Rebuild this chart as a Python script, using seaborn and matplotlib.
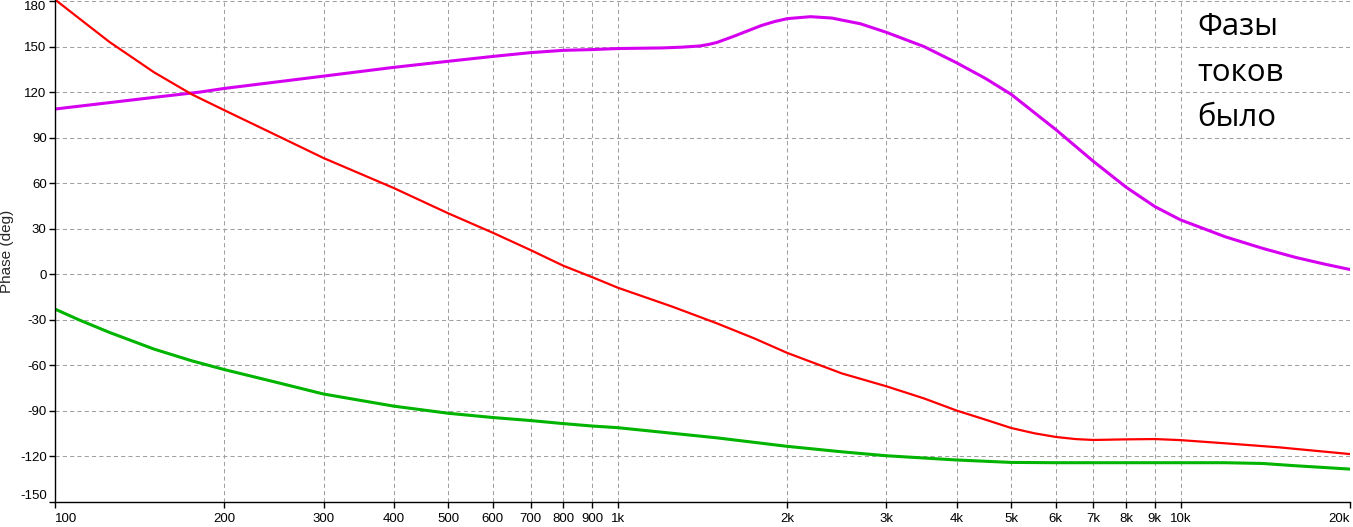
import numpy as np
import pandas as pd
import matplotlib
matplotlib.use("Agg")
import matplotlib.pyplot as plt
import seaborn as sns
from matplotlib.ticker import FixedLocator, NullLocator

# Phase curves (frequency in Hz, phase in degrees)
red_f = [100, 110, 125, 150, 175, 200, 250, 300, 400, 500, 600, 700, 800, 900,
         1000, 1250, 1500, 1750, 2000, 2500, 3000, 3500, 4000, 4500, 5000, 5500,
         6000, 6500, 7000, 8000, 9000, 10000, 12000, 15000, 20000]
red_phase = [181, 169, 153, 133, 118.5, 108, 90.7, 76.5, 56.7, 40, 27.2, 15.8, 5.5, -2,
             -9, -21.5, -32.5, -42.5, -52, -65.5, -74, -82, -90, -96, -101.5, -105,
             -107.4, -108.8, -109.4, -109, -108.8, -109.5, -111.6, -114.3, -118.7]

mag_f = [100, 150, 181, 200, 300, 400, 500, 600, 700, 800, 900, 1000, 1200, 1300, 1400,
         1450, 1500, 1600, 1700, 1800, 1900, 2000, 2200, 2400, 2700, 3000, 3500, 4000,
         4500, 5000, 6000, 7000, 8000, 9000, 10000, 12000, 14000, 16000, 18000, 20000]
mag_phase = [108.8, 116.5, 120, 122.4, 130.5, 136.3, 140.3, 143.5, 146, 147.5, 148, 148.7, 149.1, 149.6, 150.4,
             151.4, 152.7, 156.5, 160.3, 163.9, 166.5, 168.4, 169.7, 168.8, 165, 159.4, 150, 139.3,
             129, 118.5, 95.3, 74.3, 57.3, 44.5, 35.7, 24.6, 16.9, 11, 6.6, 3]

green_f = [100, 110, 125, 150, 175, 200, 250, 300, 400, 500, 600, 700, 800, 900,
           1000, 1500, 2000, 2500, 3000, 4000, 5000, 6000, 8000, 10000, 12000,
           14000, 16000, 20000]
green_phase = [-23.1, -30, -38.5, -49.5, -57.2, -63, -71.8, -79.1, -87.1, -91.8, -94.6, -96.6, -98.6, -100.2,
               -101.3, -108, -113.6, -117.2, -119.8, -122.6, -124.2, -124.4, -124.4, -124.4, -124.4,
               -124.9, -126.4, -128.6]

x_ticks = [100, 200, 300, 400, 500, 600, 700, 800, 900, 1000, 2000, 3000, 4000,
           5000, 6000, 7000, 8000, 9000, 10000, 20000]
x_labels = ["100", "200", "300", "400", "500", "600", "700", "800", "900", "1k", "2k", "3k", "4k",
            "5k", "6k", "7k", "8k", "9k", "10k", "20k"]
y_ticks = [180, 150, 120, 90, 60, 30, 0, -30, -60, -90, -120, -150]

note_lines = ["Фазы", "токов", "было"]

sns.set_style("white")
plt.rcParams['font.family'] = ['Liberation Sans', 'DejaVu Sans']

fig = plt.figure(figsize=(13.53, 5.27), dpi=100)
ax = fig.add_axes([55 / 1353, 25 / 527, 1295 / 1353, 502 / 527])

sns.lineplot(x=mag_f, y=mag_phase, ax=ax, color="#d600f0", linewidth=2.2, sort=False)
sns.lineplot(x=red_f, y=red_phase, ax=ax, color="#ff0000", linewidth=1.6, sort=False)
sns.lineplot(x=green_f, y=green_phase, ax=ax, color="#00b400", linewidth=2.2, sort=False)

ax.set_xscale("log")
ax.set_xlim(100, 20000)
ax.set_ylim(-150.3, 180.7)

ax.xaxis.set_major_locator(FixedLocator(x_ticks))
ax.xaxis.set_minor_locator(NullLocator())
ax.set_xticklabels(x_labels)
ax.set_yticks(y_ticks)
ax.set_yticklabels([str(v) for v in y_ticks])

ax.tick_params(axis="both", direction="out", length=4, width=1, colors="black",
               labelsize=9.5, bottom=True, left=True)
ax.tick_params(axis="y", pad=2)
ax.tick_params(axis="x", pad=4)

xl = ax.get_xticklabels()
xl[0].set_horizontalalignment("left")
xl[-1].set_horizontalalignment("right")
yl = ax.get_yticklabels()
yl[0].set_verticalalignment("top")
yl[-1].set_verticalalignment("bottom")

ax.grid(True, which="major", color="#a0a0a0", linestyle=(0, (4, 3)), linewidth=0.75)
ax.set_axisbelow(True)

for side in ["top", "right"]:
    ax.spines[side].set_visible(False)
for side in ["left", "bottom"]:
    ax.spines[side].set_color("black")
    ax.spines[side].set_linewidth(1)

ax.set_ylabel("Phase (deg)", fontsize=11, labelpad=4)
ax.set_xlabel("")

for i, line in enumerate(note_lines):
    ax.text(10720, 157.5 - 30 * i, line, fontsize=22.5, family=["Open Sans", "DejaVu Sans"],
            ha="left", va="baseline", color="black")

fig.savefig("out.png", dpi=100)
